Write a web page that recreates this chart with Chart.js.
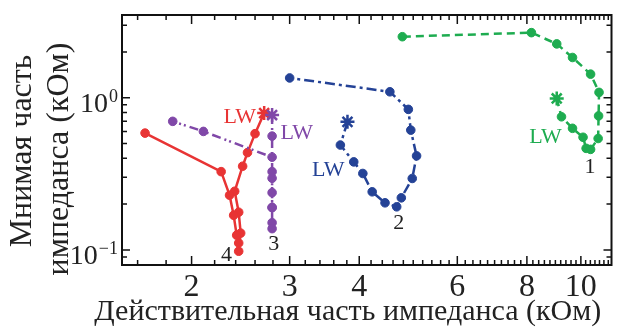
<!DOCTYPE html>
<html>
<head>
<meta charset="utf-8">
<script src="https://cdn.jsdelivr.net/npm/chart.js@4/dist/chart.umd.min.js"></script>
<style>
  html, body { margin: 0; padding: 0; background: #fff; }
  #wrap { width: 621px; height: 327px; }
</style>
</head>
<body>
<div id="wrap"><canvas id="impedanceChart"></canvas></div>
<script>
// curve 1 (green), star point first
const curve1X = [9.05, 9.23, 9.66, 10.09, 10.22, 10.41, 10.74, 10.76, 10.78, 10.41, 9.66, 9.05, 8.15, 4.78]
const curve1Y = [0.99, 0.75, 0.63, 0.55, 0.465, 0.458, 0.54, 0.76, 1.085, 1.43, 1.84, 2.26, 2.68, 2.52]

// curve 2 (blue)
const curve2X = [3.81, 3.70, 3.91, 4.06, 4.22, 4.45, 4.67, 4.76, 4.98, 5.07, 4.95, 4.90, 4.54, 3.00]
const curve2Y = [0.695, 0.489, 0.379, 0.318, 0.241, 0.204, 0.192, 0.22, 0.295, 0.415, 0.613, 0.839, 1.095, 1.35]

// curve 3 (purple)
const curve3X = [2.79, 2.79, 2.79, 2.79, 2.79, 2.79, 2.79, 2.79, 2.79, 2.79, 2.10, 1.85]
const curve3Y = [0.77, 0.56, 0.327, 0.296, 0.238, 0.19, 0.151, 0.138, 0.19, 0.407, 0.601, 0.70]

// curve 4 (red)
const curve4X = [2.70, 2.60, 2.52, 2.47, 2.39, 2.43, 2.45, 2.43, 2.43, 2.41, 2.38, 2.34, 2.26, 1.65]
const curve4Y = [0.793, 0.581, 0.436, 0.355, 0.243, 0.177, 0.129, 0.098, 0.111, 0.125, 0.169, 0.229, 0.327, 0.586]

const xTickLabels = [2, 3, 4, 6, 8, 10]
const yTickLabels = [{ value: 1, base: '10', exp: '0' }, { value: 0.1, base: '10', exp: '\u22121' }]
const yMinorTicks = [0.09, 0.2, 0.3, 0.4, 0.5, 0.6, 0.7, 0.8, 0.9, 2, 3]

const xTitle = 'Действительная часть импеданса (кОм)'
const yTitle = ['Мнимая часть', 'импеданса (кОм)']

const notes = [
  { x: 2.44, y: 0.746, text: 'LW', color: 'rgb(232,52,52)' },
  { x: 3.09, y: 0.586, text: 'LW', color: 'rgb(128,72,168)' },
  { x: 3.52, y: 0.334, text: 'LW', color: 'rgb(36,66,150)' },
  { x: 8.64, y: 0.551, text: 'LW', color: 'rgb(30,172,80)' },
  { x: 10.38, y: 0.35, text: '1', color: '#222' },
  { x: 4.71, y: 0.15, text: '2', color: '#222' },
  { x: 2.81, y: 0.109, text: '3', color: '#222' },
  { x: 2.31, y: 0.0923, text: '4', color: '#222' }
]

const SERIF = "'Liberation Serif', 'DejaVu Serif', serif"

function toPoints(xs, ys) {
  return xs.map((x, i) => ({ x: x, y: ys[i] }))
}

function curve(xs, ys, color, dash, width) {
  return {
    data: toPoints(xs, ys),
    showLine: true,
    borderColor: color,
    backgroundColor: color,
    borderWidth: width,
    borderDash: dash,
    pointStyle: xs.map((_, i) => i === 0 ? 'star' : 'circle'),
    pointRadius: xs.map((_, i) => i === 0 ? 7 : 4.3),
    pointBorderWidth: xs.map((_, i) => i === 0 ? 2.5 : 1),
    pointBackgroundColor: color,
    pointBorderColor: color,
    tension: 0
  }
}

// inward ticks on all four sides, box, y labels with superscripts, axis titles and curve notes
const framePlugin = {
  id: 'frame',
  afterDatasetsDraw(chart) {
    const ctx = chart.ctx
    const a = chart.chartArea
    const xs = chart.scales.x
    const ys = chart.scales.y
    ctx.save()
    ctx.strokeStyle = '#111'
    ctx.lineWidth = 1.5
    xs.ticks.forEach((t) => {
      const px = xs.getPixelForValue(t.value)
      const len = xTickLabels.includes(t.value) ? 9 : 5
      ctx.beginPath()
      ctx.moveTo(px, a.bottom); ctx.lineTo(px, a.bottom - len)
      ctx.moveTo(px, a.top); ctx.lineTo(px, a.top + len)
      ctx.stroke()
    })
    ys.ticks.forEach((t) => {
      const py = ys.getPixelForValue(t.value)
      const major = yTickLabels.some((l) => Math.abs(l.value - t.value) < 1e-9)
      const len = major ? 8 : 5
      ctx.beginPath()
      ctx.moveTo(a.left, py); ctx.lineTo(a.left + len, py)
      ctx.moveTo(a.right, py); ctx.lineTo(a.right - len, py)
      ctx.stroke()
    })
    ctx.lineWidth = 2
    ctx.strokeRect(a.left, a.top, a.right - a.left, a.bottom - a.top)

    // y tick labels 10^n
    ctx.fillStyle = '#222'
    ctx.textBaseline = 'alphabetic'
    ctx.textAlign = 'left'
    yTickLabels.forEach((l) => {
      const py = ys.getPixelForValue(l.value)
      ctx.font = '18px ' + SERIF
      const ew = ctx.measureText(l.exp).width
      ctx.font = '28px ' + SERIF
      const bw = ctx.measureText(l.base).width
      const x0 = a.left - 5 - ew - bw
      ctx.fillText(l.base, x0, py + 14)
      ctx.font = '18px ' + SERIF
      ctx.fillText(l.exp, x0 + bw + 1, py + 4)
    })

    // x title, a bit left of the plot centre as in the figure
    ctx.textAlign = 'center'
    ctx.font = '30px ' + SERIF
    ctx.fillText(xTitle, (a.left + a.right) / 2 - 19, chart.height - 7)

    // y title, two rotated lines
    ctx.save()
    ctx.translate(0, (a.top + a.bottom) / 2 + 11)
    ctx.rotate(-Math.PI / 2)
    ctx.textBaseline = 'middle'
    ctx.font = '32px ' + SERIF
    ctx.fillText(yTitle[0], 0, 23)
    ctx.fillText(yTitle[1], -8, 60)
    ctx.restore()

    // LW and curve numbers
    ctx.textAlign = 'center'
    ctx.textBaseline = 'middle'
    ctx.font = '22px ' + SERIF
    notes.forEach((n) => {
      ctx.fillStyle = n.color
      ctx.fillText(n.text, xs.getPixelForValue(n.x), ys.getPixelForValue(n.y))
    })
    ctx.restore()
  }
}

const xMinor = []
for (let v = 1.6; v < 11.3; v += 0.2) xMinor.push(Math.round(v * 10) / 10)

new Chart(document.getElementById('impedanceChart'), {
  type: 'scatter',
  data: {
    datasets: [
      curve(curve1X, curve1Y, 'rgb(30,172,80)', [8, 5], 2.5),
      curve(curve2X, curve2Y, 'rgb(36,66,150)', [10, 4, 3, 4], 2.5),
      curve(curve3X, curve3Y, 'rgb(128,72,168)', [9, 4, 2, 3, 2, 4], 2.5),
      curve(curve4X, curve4Y, 'rgb(232,52,52)', [], 2.5)
    ]
  },
  options: {
    responsive: true,
    maintainAspectRatio: false,
    animation: false,
    layout: { padding: { top: 15, right: 2, left: 0, bottom: 0 } },
    plugins: {
      legend: { display: false },
      tooltip: { enabled: false }
    },
    scales: {
      x: {
        type: 'logarithmic',
        min: 1.5,
        max: 11.35,
        border: { display: false },
        grid: { display: false, drawTicks: false },
        afterBuildTicks: (scale) => { scale.ticks = xMinor.map((v) => ({ value: v })) },
        afterFit: (scale) => { scale.height = 62 },
        ticks: {
          autoSkip: false,
          maxRotation: 0,
          padding: 3,
          color: '#222',
          font: { family: SERIF, size: 32 },
          callback: (v) => xTickLabels.includes(v) ? String(v) : ''
        },
        title: { display: false }
      },
      y: {
        type: 'logarithmic',
        min: 0.0796,
        max: 3.5,
        border: { display: false },
        grid: { display: false, drawTicks: false },
        afterBuildTicks: (scale) => {
          scale.ticks = yMinorTicks.concat(yTickLabels.map((l) => l.value)).map((v) => ({ value: v }))
        },
        afterFit: (scale) => { scale.width = 122 },
        ticks: { display: false },
        title: { display: false }
      }
    }
  },
  plugins: [framePlugin]
})
</script>
</body>
</html>
